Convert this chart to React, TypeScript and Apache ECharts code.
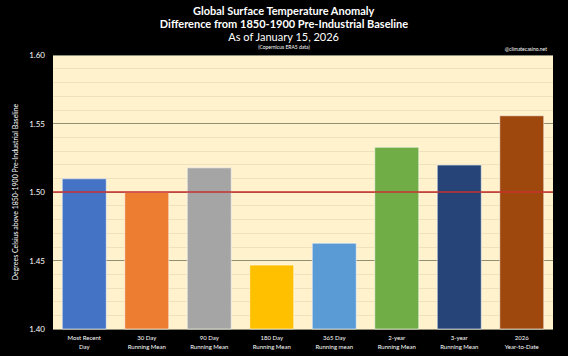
import React, { useEffect, useRef } from "react";
import * as echarts from "echarts";

const categories = [
  "Most Recent\nDay",
  "30 Day\nRunning Mean",
  "90 Day\nRunning Mean",
  "180 Day\nRunning Mean",
  "365 Day\nRunning mean",
  "2-year\nRunning Mean",
  "3-year\nRunning Mean",
  "2026\nYear-to-Date",
];
const values = [1.51, 1.5, 1.518, 1.447, 1.463, 1.533, 1.52, 1.556];
const barColors = ["#4472C4", "#ED7D31", "#A5A5A5", "#FFC000", "#5B9BD5", "#70AD47", "#264478", "#9E480E"];
const baseline = 1.5;
const titleLines = [
  "Global Surface Temperature Anomaly",
  "Difference from 1850-1900 Pre-Industrial Baseline",
  "As of January 15, 2026",
];
const sourceNote = "(Copernicus ERA5 data)";
const credit = "@climatecasino.net";
const yAxisName = "Degrees Celsius above 1850-1900 Pre-Industrial Baseline";

const FONT = "Lato, 'Open Sans', sans-serif";

export default function App() {
  const ref = useRef<HTMLDivElement>(null);
  useEffect(() => {
    if (!ref.current) return;
    const chart = echarts.init(ref.current, null, { renderer: "svg" });
    chart.setOption({
      animation: false,
      backgroundColor: "#000000",
      grid: { left: 53, right: 15, top: 55, bottom: 27, backgroundColor: "#FFF2CC", show: true, borderWidth: 0 },
      graphic: [
        { type: "text", left: "center", top: 5, style: { text: titleLines[0], fill: "#fff", font: `bold 11px ${FONT}` } },
        { type: "text", left: "center", top: 18, style: { text: titleLines[1], fill: "#fff", font: `bold 11px ${FONT}` } },
        { type: "text", left: "center", top: 31, style: { text: titleLines[2], fill: "#fff", font: `11px ${FONT}` } },
        { type: "text", left: "center", top: 44, style: { text: sourceNote, fill: "#fff", font: `5px ${FONT}` } },
        { type: "text", right: 21, top: 46, style: { text: credit, fill: "#fff", font: `5px ${FONT}` } },
      ],
      xAxis: {
        type: "category",
        data: categories,
        axisLine: { show: false },
        axisTick: { show: false },
        axisLabel: { color: "#fff", fontSize: 6, fontFamily: FONT, lineHeight: 9, margin: 4, interval: 0 },
      },
      yAxis: {
        type: "value",
        min: 1.4,
        max: 1.6,
        interval: 0.05,
        name: yAxisName,
        nameLocation: "middle",
        nameGap: 31,
        nameTextStyle: { color: "#fff", fontSize: 7, fontFamily: FONT },
        axisLine: { show: false },
        axisTick: { show: false },
        axisLabel: { color: "#fff", fontSize: 8, fontFamily: FONT, margin: 8, formatter: (v: number) => v.toFixed(2) },
        splitLine: { show: true, lineStyle: { color: "#8F8E76", width: 1 } },
        minorTick: { show: false, splitNumber: 5 },
        minorSplitLine: { show: true, lineStyle: { color: "#EEE2BE", width: 1 } },
      },
      series: [
        {
          type: "bar",
          data: values.map((v, i) => ({ value: v, itemStyle: { color: barColors[i] } })),
          barWidth: "72%",
          itemStyle: { borderColor: "rgba(255,255,255,0.55)", borderWidth: 1 },
          markLine: {
            symbol: "none",
            silent: true,
            label: { show: false },
            lineStyle: { color: "#C8302E", width: 1.5, type: "solid" },
            data: [{ yAxis: baseline }],
          },
        },
      ],
    });
    return () => chart.dispose();
  }, []);
  return <div ref={ref} style={{ width: 568, height: 356, position: "absolute", left: 0, top: 0 }} />;
}
